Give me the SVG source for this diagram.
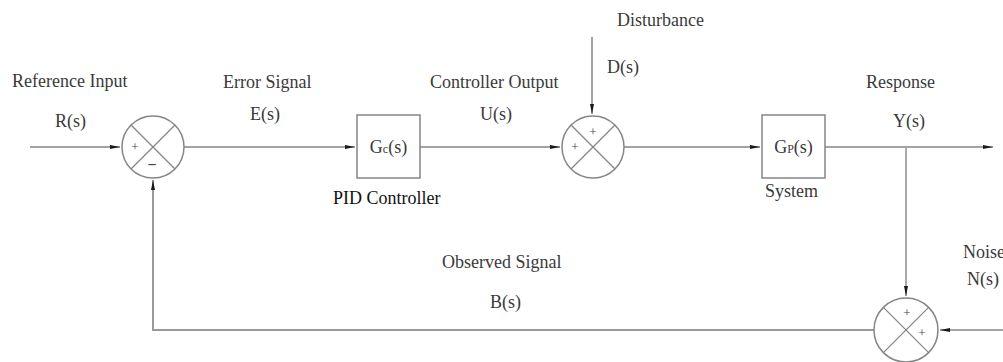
<svg xmlns="http://www.w3.org/2000/svg" width="1003" height="362" viewBox="0 0 1003 362">
<style>
.ln{fill:none;stroke:#858585;stroke-width:1.5}
.nd{fill:#fff;stroke:#858585;stroke-width:1.5}
.x{stroke:#858585;stroke-width:1.2}
.t{font-family:"Liberation Serif","Times New Roman",serif;font-size:18px;fill:#3a3a3a}
.p{font-family:"Liberation Serif","Times New Roman",serif;font-size:13px;fill:#444}
.b{font-family:"Liberation Serif","Times New Roman",serif;font-size:18px;fill:#111}
</style>
<defs>
<marker id="ah" markerUnits="userSpaceOnUse" markerWidth="11" markerHeight="6" refX="10" refY="3" orient="auto">
<path d="M0,1 L10,3 L0,5 z" fill="#1a1a1a"/>
</marker>
</defs>
<rect width="1003" height="362" fill="#fff"/>

<g id="connectors">
<line class="ln" x1="30" y1="147" x2="120" y2="147" marker-end="url(#ah)"/>
<line class="ln" x1="184" y1="147" x2="355" y2="147" marker-end="url(#ah)"/>
<line class="ln" x1="420" y1="147" x2="560" y2="147" marker-end="url(#ah)"/>
<line class="ln" x1="592" y1="37" x2="592" y2="114" marker-end="url(#ah)"/>
<line class="ln" x1="624" y1="147" x2="760" y2="147" marker-end="url(#ah)"/>
<line class="ln" x1="825" y1="147" x2="993" y2="147" marker-end="url(#ah)"/>
<line class="ln" x1="906" y1="147" x2="906" y2="296" marker-end="url(#ah)" style="stroke:#aaa;stroke-width:2"/>
<line class="ln" x1="1003" y1="330" x2="940" y2="330" marker-end="url(#ah)"/>
<polyline class="ln" points="874,330 153,330 153,180" marker-end="url(#ah)" style="stroke:#999;stroke-width:2"/>
</g>

<g id="sum1">
<circle class="nd" cx="153" cy="147" r="31"/>
<line class="x" x1="131" y1="125" x2="175" y2="169"/>
<line class="x" x1="175" y1="125" x2="131" y2="169"/>
<text class="p" x="135" y="151" text-anchor="middle">+</text>
<text class="p" x="152" y="170" text-anchor="middle" style="font-size:16px;font-weight:bold">−</text>
</g>

<g id="controller">
<rect class="nd" x="357" y="115" width="63" height="63"/>
<text class="t" x="388.5" y="153" text-anchor="middle">G<tspan style="font-size:12px">c</tspan>(s)</text>
</g>

<g id="sum2">
<circle class="nd" cx="593" cy="147" r="31"/>
<line class="x" x1="571" y1="125" x2="615" y2="169"/>
<line class="x" x1="615" y1="125" x2="571" y2="169"/>
<text class="p" x="593" y="136" text-anchor="middle">+</text>
<text class="p" x="575" y="151" text-anchor="middle">+</text>
</g>

<g id="system">
<rect class="nd" x="762" y="115" width="63" height="63"/>
<text class="t" x="793.5" y="153" text-anchor="middle">G<tspan style="font-size:12px">P</tspan>(s)</text>
</g>

<g id="sum3">
<circle class="nd" cx="906" cy="330" r="32"/>
<line class="x" x1="883.4" y1="307.4" x2="928.6" y2="352.6"/>
<line class="x" x1="928.6" y1="307.4" x2="883.4" y2="352.6"/>
<text class="p" x="907" y="317" text-anchor="middle">+</text>
<text class="p" x="922" y="337" text-anchor="middle">+</text>
</g>

<g id="labels">
<text class="t" x="12" y="87">Reference Input</text>
<text class="t" x="55" y="127">R(s)</text>
<text class="t" x="223" y="88">Error Signal</text>
<text class="t" x="250" y="120">E(s)</text>
<text class="t" x="430" y="88">Controller Output</text>
<text class="t" x="480" y="120">U(s)</text>
<text class="t" x="617" y="26">Disturbance</text>
<text class="t" x="607" y="73">D(s)</text>
<text class="b" x="333" y="204">PID Controller</text>
<text class="t" x="765" y="197">System</text>
<text class="t" x="866" y="88">Response</text>
<text class="t" x="893" y="127">Y(s)</text>
<text class="t" x="442" y="268">Observed Signal</text>
<text class="t" x="490" y="308">B(s)</text>
<text class="t" x="963" y="258">Noise</text>
<text class="t" x="967" y="285">N(s)</text>
</g>
</svg>
